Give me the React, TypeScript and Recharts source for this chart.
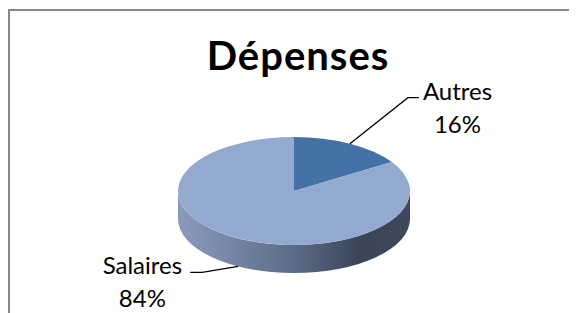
import { Cell, Pie, PieChart } from "recharts";

const categories = ["Autres", "Salaires"];
const shares = [16, 84];
const sliceColors = ["#4572a6", "#94a9cf"];
const chartTitle = "Dépenses";

const W = 569;
const H = 305;
const CX = 286;
const CY = 183;
const RX = 116;
const RY = 54;
const FLAT = RY / RX;
const DEPTH = 28;
const FONT = "Lato, 'Open Sans', sans-serif";
const LABEL_SIZE = 24;
const LINE_GAP = 33;
const RAD = Math.PI / 180;

// elbow offset from the slice edge and the horizontal tail, per label
const LEADERS: Record<string, [number, number, number]> = {
  Autres: [58, -46, 11],
  Salaires: [-36, 6, -12],
};

const rows = categories.map((name, i) => ({ name, value: shares[i] }));

function ept(cx: number, cy: number, rx: number, ry: number, a: number) {
  return [cx + rx * Math.cos(a * RAD), cy - ry * Math.sin(a * RAD)];
}

let ctx: CanvasRenderingContext2D | null = null;
function textWidth(s: string) {
  if (!ctx) ctx = document.createElement("canvas").getContext("2d");
  if (!ctx) return s.length * LABEL_SIZE * 0.48;
  ctx.font = `${LABEL_SIZE}px Lato`;
  return ctx.measureText(s).width;
}

function Slice3D(props: any) {
  const { cx, cy, outerRadius, startAngle, endAngle, fill, index } = props;
  const rx = outerRadius;
  const ry = outerRadius * FLAT;
  const [sx, sy] = ept(cx, cy, rx, ry, startAngle);
  const [ex, ey] = ept(cx, cy, rx, ry, endAngle);
  const large = Math.abs(startAngle - endAngle) > 180 ? 1 : 0;
  const sweep = startAngle > endAngle ? 1 : 0;
  const top = `M${cx},${cy} L${sx},${sy} A${rx},${ry} 0 ${large} ${sweep} ${ex},${ey} Z`;

  // front walls: the part of the slice whose angle lies in the lower half
  const lo = Math.min(startAngle, endAngle);
  const hi = Math.max(startAngle, endAngle);
  const walls: string[] = [];
  for (const k of [-720, -360, 0, 360]) {
    const a1 = Math.max(lo, -180 + k);
    const a2 = Math.min(hi, k);
    if (a2 > a1) {
      const [x2, y2] = ept(cx, cy, rx, ry, a2);
      const [x1, y1] = ept(cx, cy, rx, ry, a1);
      const lg = a2 - a1 > 180 ? 1 : 0;
      walls.push(
        `M${x2},${y2} A${rx},${ry} 0 ${lg} 1 ${x1},${y1} L${x1},${y1 + DEPTH} A${rx},${ry} 0 ${lg} 0 ${x2},${y2 + DEPTH} Z`
      );
    }
  }
  const gid = `side-${index}`;

  return (
    <g>
      <defs>
        <linearGradient id={gid} gradientUnits="userSpaceOnUse" x1={cx - rx} x2={cx + rx} y1={0} y2={0}>
          <stop offset="0%" stopColor="#8a9bbd" />
          <stop offset="50%" stopColor="#5b6b88" />
          <stop offset="78%" stopColor="#3b4558" />
          <stop offset="100%" stopColor="#3e4859" />
        </linearGradient>
      </defs>
      {walls.map((d, i) => (
        <path key={i} d={d} fill={`url(#${gid})`} stroke="none" />
      ))}
      <path d={top} fill={fill} stroke="none" />
    </g>
  );
}

function renderLabel(props: any) {
  const { cx, cy, outerRadius, midAngle, name, percent } = props;
  const rx = outerRadius;
  const ry = outerRadius * FLAT;
  let [px, py] = ept(cx, cy, rx, ry, midAngle);
  if (Math.sin(midAngle * RAD) < 0) py += DEPTH;
  const [dx, dy, tail] = LEADERS[name] ?? [40, -30, 10];
  const bx = px + dx;
  const by = py + dy;
  const endX = bx + tail;
  const pct = `${Math.round(percent * 100)}%`;
  const w = Math.max(textWidth(name), textWidth(pct));
  const center = tail > 0 ? endX + 4 + w / 2 : endX - 8 - w / 2;
  const base = by + 2;

  return (
    <g>
      <polyline points={`${px},${py} ${bx},${by} ${endX},${by}`} fill="none" stroke="#000" strokeWidth={1.3} />
      <text x={center} y={base} textAnchor="middle" fontFamily={FONT} fontSize={LABEL_SIZE} fill="#000">
        <tspan x={center} y={base}>{name}</tspan>
        <tspan x={center} y={base + LINE_GAP}>{pct}</tspan>
      </text>
    </g>
  );
}

export default function App() {
  return (
    <div style={{ position: "relative", width: W, height: H, overflow: "hidden", background: "#fff" }}>
      <div
        style={{
          position: "absolute",
          left: 0,
          top: 1,
          width: W + 40,
          height: H + 40,
          borderTop: "2px solid #878787",
          borderLeft: "2px solid #878787",
        }}
      />
      <div style={{ position: "absolute", left: 0, top: 0 }}>
        <PieChart width={W} height={H} margin={{ top: 0, right: 0, bottom: 0, left: 0 }}>
          <Pie
            data={rows}
            dataKey="value"
            nameKey="name"
            cx={CX}
            cy={CY}
            outerRadius={RX}
            startAngle={90}
            endAngle={-270}
            shape={Slice3D}
            label={renderLabel}
            labelLine={false}
            isAnimationActive={false}
          >
            {rows.map((r, i) => (
              <Cell key={r.name} fill={sliceColors[i]} />
            ))}
          </Pie>
        </PieChart>
      </div>
      <svg
        width={W}
        height={H}
        style={{ position: "absolute", left: 0, top: 0, pointerEvents: "none" }}
      >
        <text
          x={290}
          y={62}
          textAnchor="middle"
          fontFamily={FONT}
          fontWeight="bold"
          fontSize={40}
          letterSpacing={1}
          fill="#000"
        >
          {chartTitle}
        </text>
      </svg>
    </div>
  );
}
